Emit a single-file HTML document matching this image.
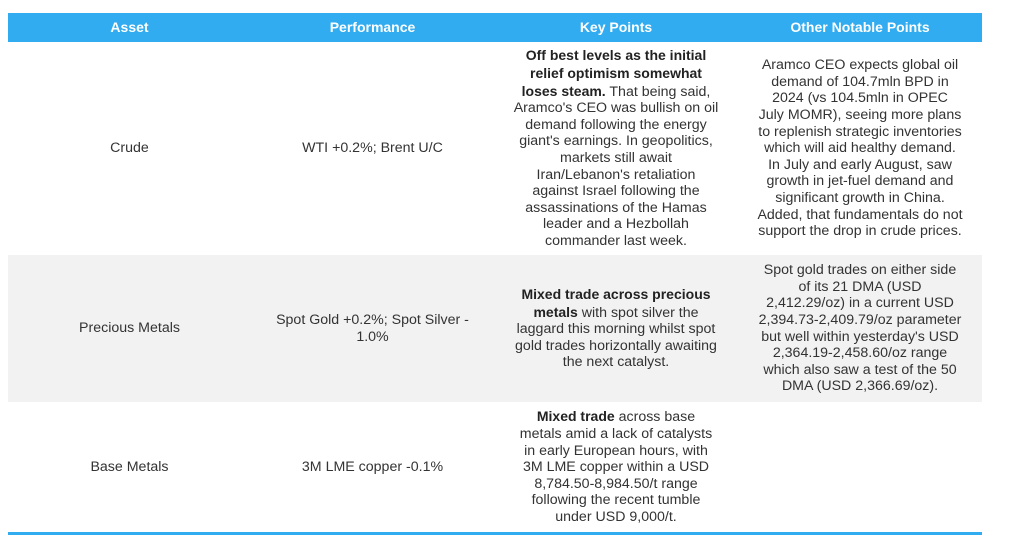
<!DOCTYPE html>
<html><head><meta charset="utf-8"><style>
body{margin:0;width:1010px;height:551px;background:#fff;position:relative;font-family:"Liberation Sans",Arial,sans-serif;font-size:14.2px;color:#333;}
.c{position:absolute;display:flex;align-items:center;justify-content:center;text-align:center;line-height:16.6px;box-sizing:border-box;white-space:nowrap;}
.h{background:#31acf0;color:#fff;font-weight:bold;font-size:14px;}
.g{background:#f2f2f2;}
b{color:#222;font-size:14px;}
</style></head><body>
<div class="c h" style="left:8px;top:13px;width:974px;height:29px;"></div>
<div class="c h" style="left:8px;top:13px;width:243px;height:29px;">Asset</div>
<div class="c h" style="left:251px;top:13px;width:243px;height:29px;">Performance</div>
<div class="c h" style="left:494px;top:13px;width:244px;height:29px;">Key Points</div>
<div class="c h" style="left:738px;top:13px;width:244px;height:29px;">Other Notable Points</div>

<div class="c" style="left:8px;top:42px;width:243px;height:213px;">Crude</div>
<div class="c" style="left:251px;top:42px;width:243px;height:213px;">WTI +0.2%; Brent U/C</div>
<div class="c" style="left:494px;top:42px;width:244px;height:213px;"><div><b>Off best levels as the initial<br>relief optimism somewhat<br>loses steam.</b> That being said,<br>Aramco's CEO was bullish on oil<br>demand following the energy<br>giant's earnings. In geopolitics,<br>markets still await<br>Iran/Lebanon's retaliation<br>against Israel following the<br>assassinations of the Hamas<br>leader and a Hezbollah<br>commander last week.</div></div>
<div class="c" style="left:738px;top:42px;width:244px;height:213px;"><div>Aramco CEO expects global oil<br>demand of 104.7mln BPD in<br>2024 (vs 104.5mln in OPEC<br>July MOMR), seeing more plans<br>to replenish strategic inventories<br>which will aid healthy demand.<br>In July and early August, saw<br>growth in jet-fuel demand and<br>significant growth in China.<br>Added, that fundamentals do not<br>support the drop in crude prices.</div></div>

<div class="c g" style="left:8px;top:255px;width:974px;height:147px;"></div>
<div class="c" style="left:8px;top:255px;width:243px;height:147px;">Precious Metals</div>
<div class="c" style="left:251px;top:255px;width:243px;height:147px;"><div>Spot Gold +0.2%; Spot Silver -<br>1.0%</div></div>
<div class="c" style="left:494px;top:255px;width:244px;height:147px;"><div><b>Mixed trade across precious<br>metals</b> with spot silver the<br>laggard this morning whilst spot<br>gold trades horizontally awaiting<br>the next catalyst.</div></div>
<div class="c" style="left:738px;top:255px;width:244px;height:147px;"><div>Spot gold trades on either side<br>of its 21 DMA (USD<br>2,412.29/oz) in a current USD<br>2,394.73-2,409.79/oz parameter<br>but well within yesterday's USD<br>2,364.19-2,458.60/oz range<br>which also saw a test of the 50<br>DMA (USD 2,366.69/oz).</div></div>

<div class="c" style="left:8px;top:402px;width:243px;height:130px;">Base Metals</div>
<div class="c" style="left:251px;top:402px;width:243px;height:130px;">3M LME copper -0.1%</div>
<div class="c" style="left:494px;top:402px;width:244px;height:130px;"><div><b>Mixed trade</b> across base<br>metals amid a lack of catalysts<br>in early European hours, with<br>3M LME copper within a USD<br>8,784.50-8,984.50/t range<br>following the recent tumble<br>under USD 9,000/t.</div></div>
<div style="position:absolute;left:8px;top:532px;width:974px;height:3px;background:#31acf0;"></div>
</body></html>
